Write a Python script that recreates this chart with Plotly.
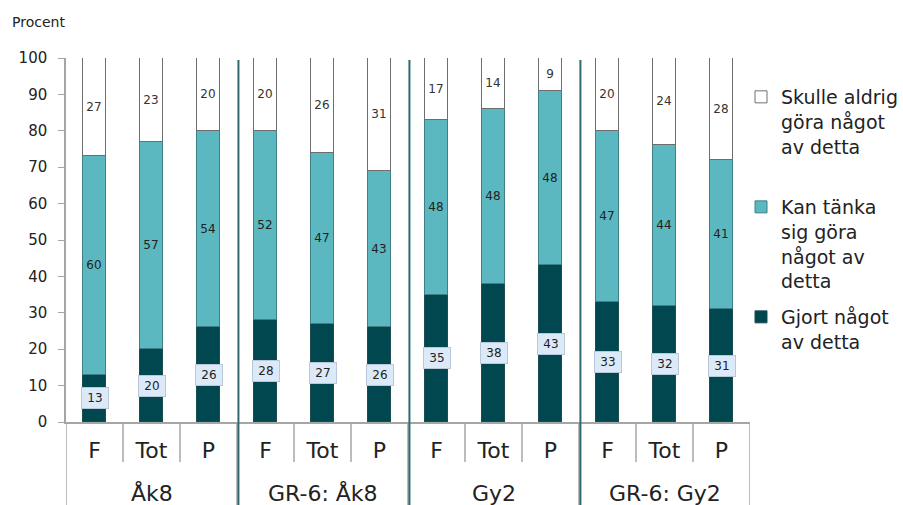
import plotly.graph_objects as go

# ---------------- data ----------------
groups = ["Åk8", "GR-6: Åk8", "Gy2", "GR-6: Gy2"]
subcats = ["F", "Tot", "P"]
gjort = [13, 20, 26, 28, 27, 26, 35, 38, 43, 33, 32, 31]
kan_tanka = [60, 57, 54, 52, 47, 43, 48, 48, 48, 47, 44, 41]
aldrig = [27, 23, 20, 20, 26, 31, 17, 14, 9, 20, 24, 28]
series_names = [
    "Gjort något<br>av detta",
    "Kan tänka<br>sig göra<br>något av<br>detta",
    "Skulle aldrig<br>göra något<br>av detta",
]
y_ticks = [0, 10, 20, 30, 40, 50, 60, 70, 80, 90, 100]
y_title = "Procent"

# ---------------- layout helpers ----------------
n = len(gjort)
xpos = list(range(n))
tick_text = [subcats[i % len(subcats)] for i in range(n)]

FONT = "DejaVu Sans, Verdana, sans-serif"
DARK = "#00474f"
TEAL = "#5cb8c0"
GRAY = "#a6a6a6"
SEP = "#2d6b70"

W, H = 903, 505
ML, MR, MT, MB = 66, 153, 58, 83
PW, PH = W - ML - MR, H - MT - MB


def py(pix):
    return (H - MB - pix) / PH


def px(pix):
    return (pix - ML) / PW


fig = go.Figure()

fig.add_trace(go.Bar(
    x=xpos, y=gjort, name=series_names[0], width=0.42,
    marker=dict(color=DARK, line=dict(color="#1d4d52", width=1)),
    legend="legend3",
))
fig.add_trace(go.Bar(
    x=xpos, y=kan_tanka, name=series_names[1], width=0.42,
    marker=dict(color=TEAL, line=dict(color="#3f7f86", width=1)),
    text=kan_tanka, textposition="inside", insidetextanchor="middle",
    textangle=0, textfont=dict(size=12, color="#222222", family=FONT),
    legend="legend2",
))
fig.add_trace(go.Bar(
    x=xpos, y=aldrig, name=series_names[2], width=0.42,
    marker=dict(color="#ffffff", line=dict(color="#6e6e6e", width=1)),
    text=aldrig, textposition="inside", insidetextanchor="middle",
    textangle=0, textfont=dict(size=12.5, color="#333333", family=FONT),
    legend="legend",
))

# labels with boxes for the dark segment
annotations = []
for xi, v in zip(xpos, gjort):
    annotations.append(dict(
        x=xi, y=v / 2, xref="x", yref="y", text=str(v), showarrow=False,
        font=dict(size=12, color="#222222", family=FONT), width=20,
        bgcolor="#dce9f8", bordercolor="#b9c8d8", borderwidth=1, borderpad=3,
    ))

# group labels
for gi, g in enumerate(groups):
    annotations.append(dict(
        x=gi * 3 + 1, y=py(493), xref="x", yref="paper", text=g,
        showarrow=False, xanchor="center", yanchor="middle",
        font=dict(size=22, color="#222222", family=FONT),
    ))

annotations.append(dict(
    x=px(10), y=py(22), xref="paper", yref="paper", text=y_title,
    showarrow=False, xanchor="left", yanchor="middle",
    font=dict(size=14, color="#222222", family=FONT),
))

shapes = []
# inner dividers (between sub-categories) and group boundaries
for b in range(n + 1):
    xb = b - 0.5
    bottom = 505 if b % 3 == 0 else 462
    shapes.append(dict(type="line", xref="x", yref="paper",
                       x0=xb, x1=xb, y0=0, y1=py(bottom),
                       line=dict(color=GRAY, width=1.5)))
# dark separators between groups
for b in (3, 6, 9):
    xb = b - 0.5
    shapes.append(dict(type="line", xref="x", yref="paper",
                       x0=xb + 0.025, x1=xb + 0.025, y0=py(505), y1=py(60),
                       line=dict(color=SEP, width=2)))

leg_common = dict(
    xref="paper", yref="paper", xanchor="left", yanchor="top",
    font=dict(size=19, color="#222222", family=FONT),
    bgcolor="rgba(0,0,0,0)", valign="top", itemwidth=30,
)

fig.update_layout(
    width=W, height=H,
    margin=dict(l=ML, r=MR, t=MT, b=MB, pad=0, autoexpand=False),
    paper_bgcolor="white", plot_bgcolor="white",
    barmode="stack", bargap=0,
    font=dict(family=FONT, color="#222222"),
    showlegend=True,
    legend=dict(x=px(741), y=py(78), **leg_common),
    legend2=dict(x=px(741), y=py(188), **leg_common),
    legend3=dict(x=px(741), y=py(298), **leg_common),
    xaxis=dict(
        range=[-0.5, n - 0.5], tickmode="array", tickvals=xpos, ticktext=tick_text,
        showgrid=False, zeroline=False, showline=True, linecolor=GRAY, linewidth=1.5,
        ticks="", tickfont=dict(size=22, color="#222222", family=FONT),
        ticklabelstandoff=8, fixedrange=True,
    ),
    yaxis=dict(
        range=[0, 100], tickmode="array", tickvals=y_ticks,
        showgrid=False, zeroline=False, showline=True, linecolor=GRAY, linewidth=1.5,
        ticks="outside", ticklen=6, tickcolor=GRAY, tickwidth=1,
        tickfont=dict(size=15, color="#222222", family=FONT),
        ticklabelstandoff=8, fixedrange=True,
    ),
    annotations=annotations,
    shapes=shapes,
    uniformtext=dict(minsize=12, mode="show"),
)

fig.write_html(
    "out.html",
    config={"displayModeBar": False},
    post_script="document.body.style.margin='0';document.body.style.overflow='hidden';",
)
